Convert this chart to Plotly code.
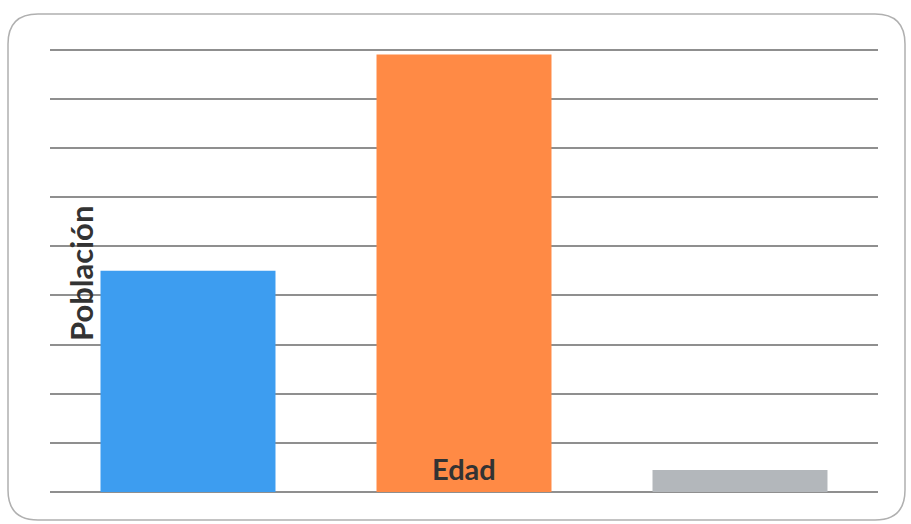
import plotly.graph_objects as go

categories = ["A", "B", "C"]
values = [4.5, 8.9, 0.45]
colors = ["#3d9df0", "#ff8a45", "#b3b7bb"]
y_ticks = list(range(0, 10))

W, H = 911, 524
L, R, T, B = 50, 33, 25, 32
pw, ph = W - L - R, H - T - B

def px(x):
    return (x - L) / pw

def py(y):
    return (H - B - y) / ph

fig = go.Figure()
fig.add_trace(go.Bar(x=categories, y=values, marker=dict(color=colors, line=dict(width=0)),
                     hoverinfo="skip"))

# rounded border
x0, x1, y0, y1, r = 8, 905, 14, 520, 30
path = (f"M {px(x0+r)},{py(y0)} L {px(x1-r)},{py(y0)} "
        f"Q {px(x1)},{py(y0)} {px(x1)},{py(y0+r)} L {px(x1)},{py(y1-r)} "
        f"Q {px(x1)},{py(y1)} {px(x1-r)},{py(y1)} L {px(x0+r)},{py(y1)} "
        f"Q {px(x0)},{py(y1)} {px(x0)},{py(y1-r)} L {px(x0)},{py(y0+r)} "
        f"Q {px(x0)},{py(y0)} {px(x0+r)},{py(y0)} Z")
fig.add_shape(type="path", path=path, xref="paper", yref="paper",
              line=dict(color="#b0b0b0", width=1.5), layer="below")

fig.add_annotation(text="<b>Población</b>", xref="paper", yref="paper",
                   x=px(81), y=py(274), xanchor="center", yanchor="middle",
                   textangle=-90, showarrow=False,
                   font=dict(family="Lato", size=31, color="#333333"))
fig.add_annotation(text="<b>Edad</b>", xref="x", yref="paper",
                   x="B", y=py(468), xanchor="center", yanchor="middle", showarrow=False,
                   font=dict(family="Lato", size=29, color="#333333"))

fig.update_layout(
    width=W, height=H, margin=dict(l=L, r=R, t=T, b=B),
    paper_bgcolor="white", plot_bgcolor="white",
    bargap=0.366, showlegend=False,
    xaxis=dict(showticklabels=False, showgrid=False, zeroline=False, showline=False,
               range=[-0.5, 2.5]),
    yaxis=dict(range=[0, 9.5], tickvals=y_ticks, showticklabels=False,
               showgrid=True, gridcolor="#8f8f8f", gridwidth=2,
               zeroline=True, zerolinecolor="#8f8f8f", zerolinewidth=2, showline=False),
)

fig.write_html("out.html")
